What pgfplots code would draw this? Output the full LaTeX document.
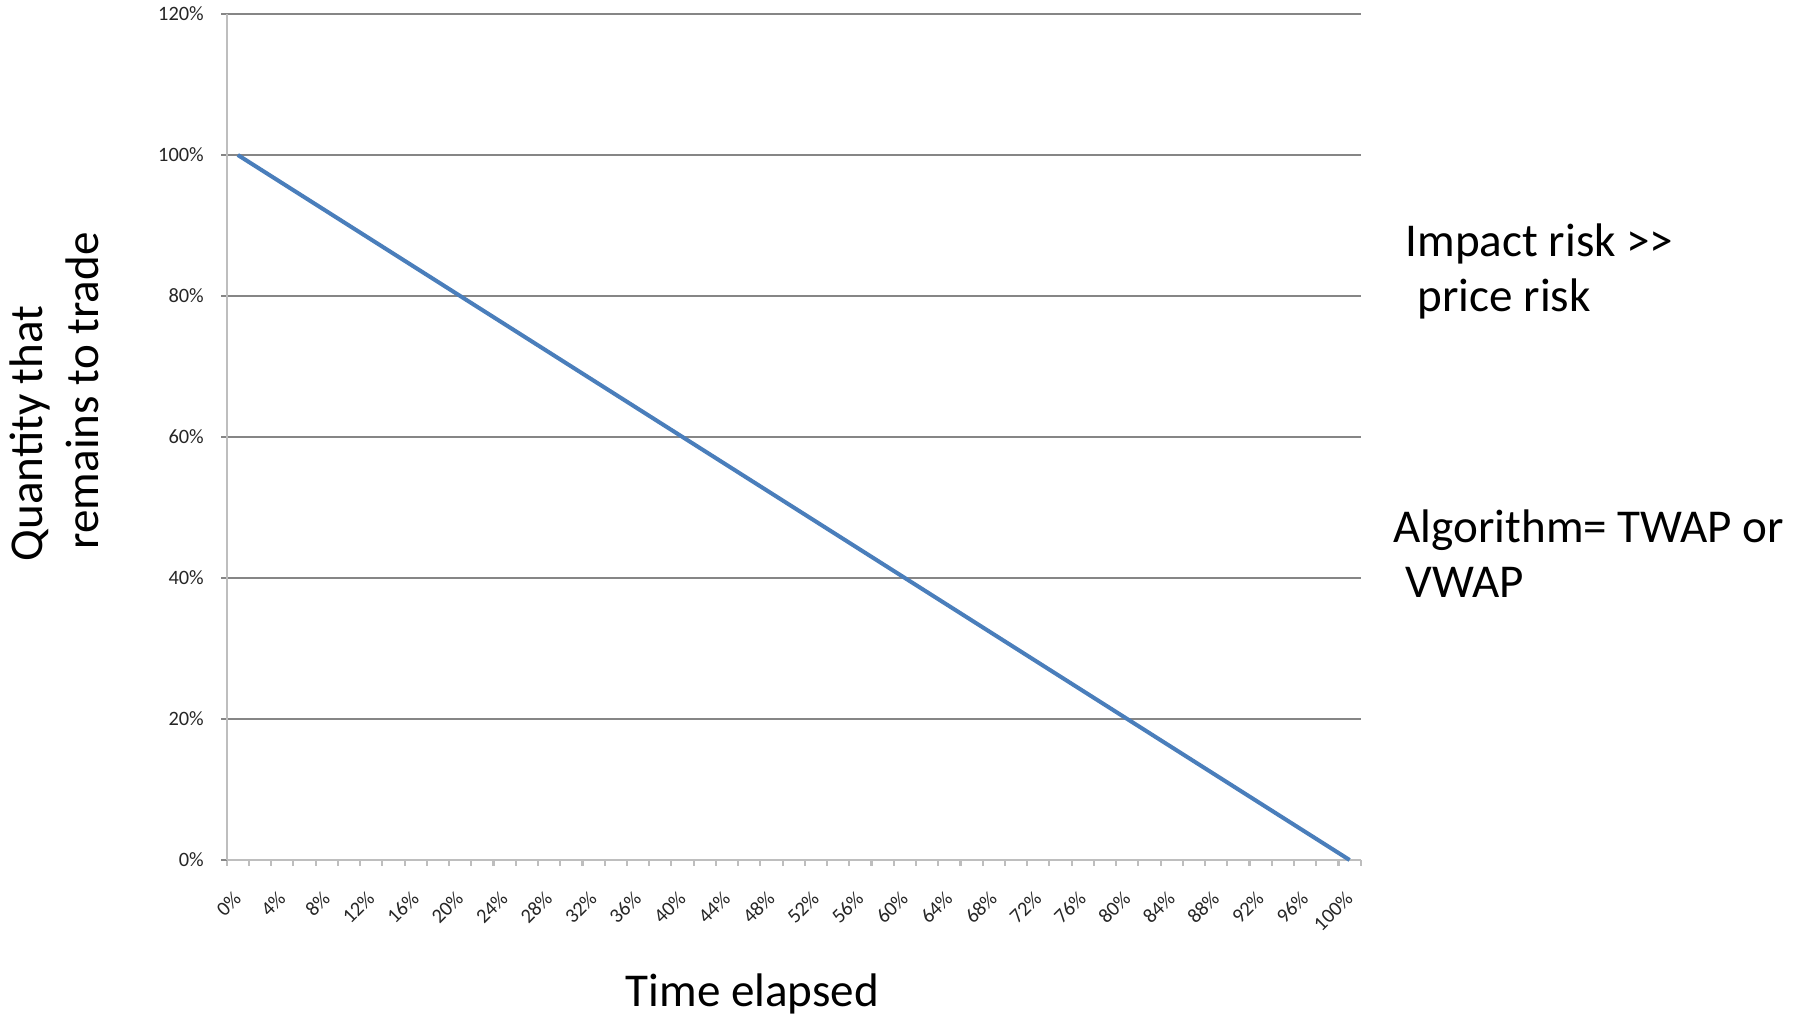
\documentclass[border=0pt]{standalone}
\usepackage{fontspec}
\setmainfont{Carlito}
\usepackage{pgfplots}
\pgfplotsset{compat=1.18}

\definecolor{serieblue}{RGB}{74,126,187}
\definecolor{gridgray}{RGB}{134,134,134}
\definecolor{axisgray}{RGB}{190,190,190}

\newcommand{\bigtext}{\fontsize{13.4}{15.6}\selectfont}

\begin{document}
\begin{tikzpicture}[x=1mm,y=1mm]
\path[use as bounding box] (0,0) rectangle (181.2,101.7);
\begin{axis}[
  at={(22.67mm,15.7mm)}, anchor=south west,
  scale only axis, width=113.4mm, height=84.6mm,
  xmin=-1, xmax=101, ymin=0, ymax=120,
  axis x line*=bottom, axis y line*=left,
  axis line style={draw=axisgray, line width=0.6pt, -},
  tick align=outside,
  xtick={0,4,...,100},
  major x tick style={draw=none},
  minor xtick={-1,1,...,101},
  minor x tick style={draw=axisgray, line width=0.6pt},
  minor tick length=0.6mm,
  ytick={0,20,...,120},
  major y tick style={draw=gridgray, line width=0.3pt},
  major tick length=0.55mm,
  ymajorgrids,
  grid style={draw=gridgray, line width=0.3pt},
  /pgf/number format/assume math mode=true,
  ticklabel style={font=\fontsize{5.8}{7}\selectfont, text=black!85},
  xticklabel={\pgfmathprintnumber{\tick}\%},
  yticklabel={\pgfmathprintnumber{\tick}\%},
  xticklabel style={yshift=-2.9mm, rotate=45, anchor=east, inner sep=0pt},
  yticklabel style={anchor=east, inner sep=0pt, xshift=-1.67mm},
  clip=false,
]
% quantity left to trade, executed evenly over the time window
\addplot[serieblue, line width=1.15pt, line join=round] coordinates {
  (0,100) (2,98) (4,96) (6,94) (8,92) (10,90) (12,88) (14,86) (16,84) (18,82)
  (20,80) (22,78) (24,76) (26,74) (28,72) (30,70) (32,68) (34,66) (36,64) (38,62)
  (40,60) (42,58) (44,56) (46,54) (48,52) (50,50) (52,48) (54,46) (56,44) (58,42)
  (60,40) (62,38) (64,36) (66,34) (68,32) (70,30) (72,28) (74,26) (76,24) (78,22)
  (80,20) (82,18) (84,16) (86,14) (88,12) (90,10) (92,8) (94,6) (96,4) (98,2)
  (100,0)
};
\end{axis}

% axis titles
\node[anchor=base west, inner sep=0pt, font=\bigtext] at (62.5,1.0) {Time elapsed};
\node[anchor=base west, inner sep=0pt, font=\bigtext, rotate=90] at (4.27,45.5) {Quantity that};
\node[anchor=base west, inner sep=0pt, font=\bigtext, rotate=90] at (9.9,46.7) {remains to trade};

% annotations
\node[anchor=base west, inner sep=0pt, font=\bigtext] at (140.5,76.0) {Impact risk {>}{>}};
\node[anchor=base west, inner sep=0pt, font=\bigtext] at (141.7,70.5) {price risk};
\node[anchor=base west, inner sep=0pt, font=\bigtext] at (139.3,47.4) {Algorithm= TWAP or};
\node[anchor=base west, inner sep=0pt, font=\bigtext] at (140.5,41.9) {VWAP};
\end{tikzpicture}
\end{document}
